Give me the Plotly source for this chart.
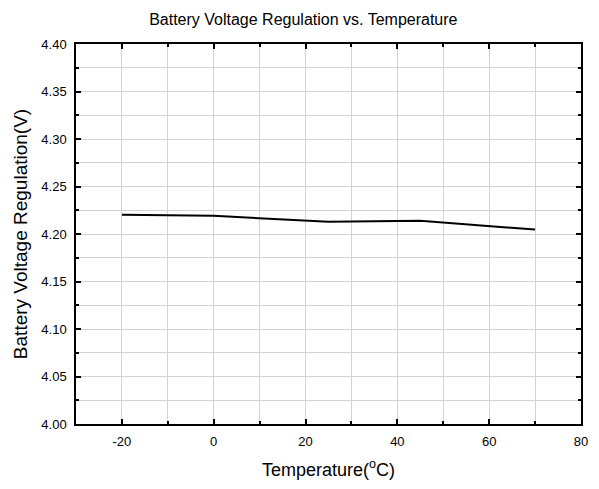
import plotly.graph_objects as go

temperature = [-20, 0, 25, 45, 70]
voltage = [4.2202, 4.2191, 4.2128, 4.2139, 4.2047]

x_ticks = [-20, 0, 20, 40, 60, 80]
x_tick_labels = ["-20", "0", "20", "40", "60", "80"]
y_ticks = [4.00, 4.05, 4.10, 4.15, 4.20, 4.25, 4.30, 4.35, 4.40]
y_tick_labels = [f"{v:.2f}" for v in y_ticks]

FONT = "Liberation Sans, Arial, sans-serif"

fig = go.Figure()
fig.add_trace(go.Scatter(x=temperature, y=voltage, mode="lines",
                         line=dict(color="black", width=2), showlegend=False))

fig.update_layout(
    width=599, height=489,
    margin=dict(l=68, r=26, t=36, b=73),
    paper_bgcolor="white", plot_bgcolor="white",
    font=dict(family=FONT, size=13, color="black"),
    title=dict(text="Battery Voltage Regulation vs. Temperature",
               x=0.493, xanchor="center", y=0.977, yanchor="middle",
               font=dict(family=FONT, size=16, color="black")),
)

axis_common = dict(
    showline=True, linecolor="black", linewidth=1.5, mirror="ticks",
    ticks="inside", ticklen=5, tickwidth=1.5, tickcolor="black",
    showgrid=True, gridcolor="#d3d3d3", gridwidth=1, zeroline=False,
    tickfont=dict(family=FONT, size=13, color="black"),
    ticklabelstandoff=5,
)

fig.update_xaxes(
    range=[-30, 80], tickvals=x_ticks, ticktext=x_tick_labels,
    title=dict(text="Temperature(<sup>o</sup>C)", font=dict(family=FONT, size=18), standoff=15),
    minor=dict(dtick=10, tick0=0, ticks="inside", ticklen=3, tickcolor="black",
               showgrid=True, gridcolor="#d3d3d3", gridwidth=1),
    **axis_common,
)
fig.update_yaxes(
    range=[4.00, 4.40], tickvals=y_ticks, ticktext=y_tick_labels,
    title=dict(text="Battery Voltage Regulation(V)", font=dict(family=FONT, size=19), standoff=9),
    minor=dict(dtick=0.025, tick0=4.0, ticks="inside", ticklen=3, tickcolor="black",
               showgrid=True, gridcolor="#d3d3d3", gridwidth=1),
    **axis_common,
)

fig.write_html("out.html")
